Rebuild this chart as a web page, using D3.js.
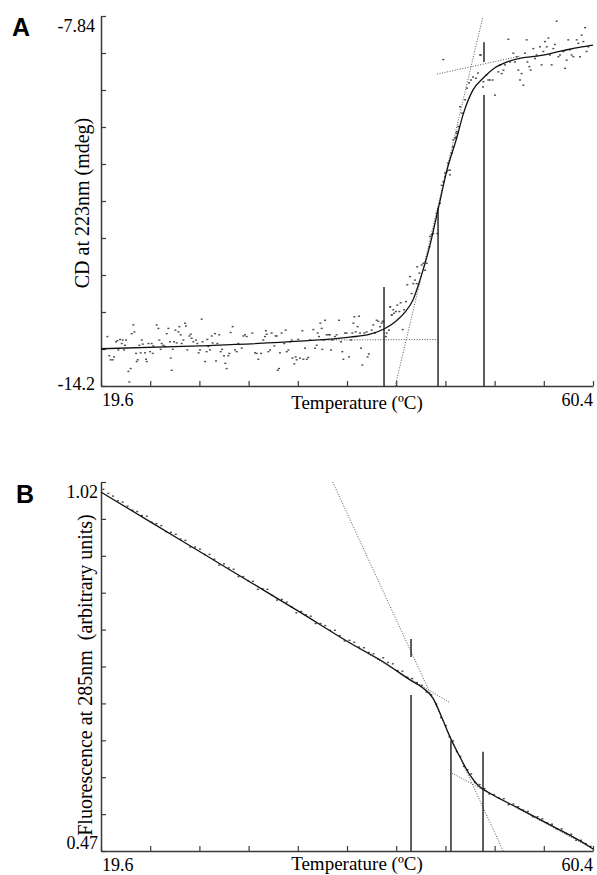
<!DOCTYPE html>
<html>
<head>
<meta charset="utf-8">
<script src="https://cdn.jsdelivr.net/npm/d3@7"></script>
<style>
  body { margin: 0; background: #fff; }
  svg { display: block; }
</style>
</head>
<body>
<script>
// shared axis ranges and labels
const tempRange = [19.6, 60.4];
const tempLabels = ['19.6', '60.4'];
const cdRange = [-14.2, -7.84];
const cdLabels = ['-7.84', '-14.2'];
const fluoRange = [0.47, 1.02];
const fluoLabels = ['1.02', '0.47'];

// ---- panel A : CD at 223nm ----
const cdFit = [
    [19.6, -13.56], [27.81, -13.51], [36.10, -13.43], [40.25, -13.36], [41.91, -13.31],
    [43.07, -13.22], [43.98, -13.10], [44.81, -12.93], [45.47, -12.72], [46.05, -12.38],
    [46.88, -11.78], [47.55, -11.17], [48.29, -10.49], [49.12, -9.92], [49.62, -9.54],
    [50.45, -9.11], [51.28, -8.91], [52.27, -8.73], [53.27, -8.63], [54.51, -8.56],
    [55.76, -8.53], [57.00, -8.48], [58.25, -8.42], [59.49, -8.37], [60.4, -8.34]
];
const cdDots = [
    [20.13, -13.35], [20.29, -13.68], [20.40, -13.75], [20.57, -13.75], [20.68, -13.70],
    [20.85, -13.44], [20.96, -13.42], [21.04, -13.58], [21.18, -13.40], [21.32, -13.47],
    [21.40, -13.41], [21.51, -13.58], [21.59, -13.50], [21.68, -13.41], [21.87, -13.95],
    [21.95, -14.13], [22.06, -13.90], [22.15, -13.30], [22.28, -13.15], [22.37, -13.27],
    [22.51, -13.64], [22.56, -13.78], [22.64, -13.75], [22.78, -13.50], [22.89, -13.63],
    [22.98, -13.41], [23.06, -13.48], [23.25, -13.63], [23.33, -13.74], [23.39, -13.78],
    [23.53, -13.47], [23.67, -13.61], [23.80, -13.47], [23.89, -13.64], [23.94, -13.51],
    [24.22, -13.15], [24.36, -13.21], [24.44, -13.41], [24.55, -13.57], [24.63, -13.47],
    [24.77, -13.50], [24.91, -13.52], [25.05, -13.30], [25.19, -13.21], [25.32, -13.44],
    [25.38, -13.72], [25.46, -13.93], [25.55, -13.57], [25.66, -13.44], [25.77, -13.24],
    [25.88, -13.46], [26.02, -13.27], [26.10, -13.18], [26.21, -13.32], [26.29, -13.47],
    [26.43, -13.41], [26.57, -13.12], [26.65, -13.17], [26.76, -13.58], [26.93, -13.34],
    [27.04, -13.31], [27.12, -13.38], [27.26, -13.44], [27.48, -13.41], [27.59, -13.47],
    [27.70, -13.63], [27.81, -13.58], [27.95, -13.05], [28.03, -13.44], [28.23, -13.78],
    [28.36, -13.61], [28.42, -13.40], [28.50, -13.52], [28.64, -13.58], [28.78, -13.34],
    [28.86, -13.46], [29.06, -13.30], [29.14, -13.77], [29.25, -13.47], [29.41, -13.32],
    [29.53, -13.61], [29.64, -13.57], [29.80, -13.68], [29.91, -13.81], [30.02, -13.90],
    [30.16, -13.68], [30.24, -13.64], [30.35, -13.28], [30.52, -13.18], [30.71, -13.58],
    [30.85, -13.61], [30.99, -13.47], [31.27, -13.55], [31.41, -13.34], [31.54, -13.32],
    [31.68, -13.35], [32.15, -13.29], [32.37, -13.63], [32.51, -13.64], [32.65, -13.74],
    [32.87, -13.64], [33.06, -13.41], [33.20, -13.35], [33.28, -13.25], [33.34, -13.31],
    [33.48, -13.61], [33.62, -13.58], [33.75, -13.29], [33.97, -13.51], [34.08, -13.34],
    [34.17, -13.34], [34.25, -13.93], [34.36, -13.90], [34.44, -13.63], [34.58, -13.29],
    [34.80, -13.47], [34.91, -13.24], [35.00, -13.61], [35.14, -13.58], [35.27, -13.44],
    [35.41, -13.41], [35.47, -13.72], [35.63, -13.82], [35.74, -13.70], [35.83, -13.75],
    [35.96, -13.40], [36.10, -13.72], [36.30, -13.25], [36.38, -13.74], [36.52, -13.55],
    [36.66, -13.74], [36.79, -13.71], [36.93, -13.41], [37.21, -13.23], [37.35, -13.55],
    [37.48, -13.50], [37.57, -13.29], [37.68, -13.35], [37.79, -13.12], [37.90, -13.21],
    [37.95, -13.57], [38.07, -13.41], [38.18, -13.07], [38.31, -13.32], [38.45, -13.32],
    [38.59, -13.32], [38.67, -13.58], [38.78, -13.41], [39.00, -13.35], [39.14, -13.32],
    [39.34, -13.07], [39.50, -13.44], [39.61, -13.61], [39.70, -13.74], [39.83, -13.29],
    [39.97, -13.29], [40.17, -13.70], [40.33, -13.41], [40.44, -13.29], [40.53, -13.12],
    [40.61, -13.01], [40.72, -13.27], [40.88, -13.18], [40.99, -13.00], [41.08, -13.29],
    [41.16, -13.55], [41.27, -13.84], [41.44, -13.29], [41.63, -13.27], [41.71, -13.70],
    [41.82, -13.65], [42.05, -13.24], [42.18, -13.15], [42.32, -13.29], [42.46, -13.07],
    [42.60, -13.09], [42.74, -13.18], [42.87, -13.12], [43.01, -13.09], [43.29, -13.29],
    [43.48, -13.24], [43.59, -12.84], [43.70, -12.98], [43.84, -12.89],
    [42.96, -13.09], [43.23, -13.35], [43.57, -12.84], [43.73, -12.98], [43.90, -12.95],
    [44.06, -12.92], [44.17, -12.81], [44.34, -12.92], [44.45, -12.77], [44.62, -13.23],
    [44.73, -12.89], [44.89, -12.75], [45.00, -12.46], [45.23, -12.32], [45.36, -12.61],
    [45.50, -12.44], [45.64, -12.38], [45.78, -12.44], [45.83, -12.15], [46.00, -12.26],
    [46.19, -12.12], [46.33, -12.09], [46.47, -12.21], [46.61, -12.09], [46.83, -11.81],
    [46.88, -11.63], [47.02, -11.60], [47.16, -11.58], [47.44, -11.23], [47.49, -11.58],
    [47.71, -11.06], [47.85, -10.75], [47.99, -10.69], [48.13, -10.60], [48.27, -10.52],
    [48.40, -10.49], [48.54, -10.57], [48.68, -10.20], [48.82, -9.97], [48.96, -9.94],
    [49.09, -9.86], [49.23, -9.74],
    [48.13, -10.54], [48.38, -10.37], [48.54, -10.49], [48.79, -10.09], [49.04, -9.92],
    [49.12, -9.83], [49.37, -9.40], [49.54, -9.51], [49.79, -9.28], [49.95, -9.08],
    [50.12, -8.99], [50.28, -8.94], [50.45, -8.89], [50.70, -8.91], [50.86, -8.82],
    [51.11, -8.51], [51.28, -9.06], [47.98, -8.59],
    [51.03, -8.51], [51.31, -8.97], [51.58, -8.85], [51.72, -8.94], [51.86, -8.94],
    [52.08, -8.94], [52.27, -9.20], [52.55, -8.80], [52.69, -8.68], [52.83, -8.83],
    [52.97, -8.77], [53.10, -8.68], [53.38, -8.24], [53.52, -8.63], [53.79, -8.48],
    [53.93, -8.63], [54.07, -8.54], [54.21, -8.77], [54.35, -8.94], [54.48, -8.83],
    [54.62, -9.03], [54.76, -8.48], [54.90, -8.25], [54.96, -8.63], [55.12, -8.71],
    [55.23, -8.77], [55.45, -8.40], [55.59, -8.57], [55.73, -8.51], [56.00, -8.37],
    [56.14, -8.68], [56.28, -8.45], [56.42, -8.28], [56.56, -8.37], [56.70, -8.22],
    [56.83, -8.51], [56.97, -8.68], [57.11, -8.40], [57.25, -8.33], [57.39, -7.93],
    [57.53, -8.54], [57.66, -8.51], [57.94, -8.45], [58.08, -8.74], [58.22, -8.60],
    [58.35, -8.25], [58.49, -8.42], [58.63, -8.51], [58.77, -8.54], [59.05, -8.25],
    [59.18, -8.31], [59.32, -8.54], [59.46, -8.17], [59.60, -8.28], [59.74, -8.04],
    [59.87, -8.45], [60.01, -8.37]
];
const cdGuides = [
    [[37.8, -13.41], [47.55, -13.40]],
    [[44.0, -14.2], [51.25, -7.87]],
    [[47.46, -8.84], [54.35, -8.53]]
];
const cdMarks = [
    [43.07, -14.2, -12.50],
    [47.55, -14.2, -11.13],
    [51.36, -14.2, -9.20],
    [51.36, -8.63, -8.29]
];

// ---- panel B : fluorescence at 285nm ----
const fluoFit = [
    [19.6, 1.005], [23.66, 0.961], [27.81, 0.916], [31.96, 0.871], [36.10, 0.826],
    [40.25, 0.780], [42.99, 0.752], [45.23, 0.725], [46.30, 0.713], [47.13, 0.698],
    [47.96, 0.665], [48.54, 0.640], [49.37, 0.610], [50.20, 0.583], [50.86, 0.568],
    [51.86, 0.556], [54.10, 0.535], [56.84, 0.509], [60.15, 0.476], [60.4, 0.473]
];
const fluoDots = [
    [19.8, 1.009], [20.2, 1.003], [20.6, 0.999], [21.0, 0.992], [21.4, 0.990],
    [21.8, 0.984], [22.2, 0.978], [22.6, 0.976], [23.0, 0.970], [23.4, 0.969],
    [23.8, 0.960], [24.2, 0.958], [24.6, 0.955], [25.0, 0.946], [25.4, 0.945],
    [25.8, 0.942], [26.2, 0.935], [26.6, 0.933], [27.0, 0.923], [27.4, 0.923],
    [27.8, 0.920], [28.2, 0.912], [28.6, 0.912], [29.0, 0.905], [29.4, 0.896],
    [29.8, 0.898], [30.2, 0.892], [30.6, 0.890], [31.0, 0.879], [31.4, 0.879],
    [31.8, 0.873], [32.2, 0.872], [32.6, 0.860], [33.0, 0.861], [33.4, 0.860],
    [33.8, 0.851], [34.2, 0.844], [34.6, 0.845], [35.0, 0.841], [35.4, 0.834],
    [35.8, 0.825], [36.2, 0.827], [36.6, 0.822], [37.0, 0.820], [37.4, 0.809],
    [37.8, 0.809], [38.2, 0.806], [38.6, 0.799], [39.0, 0.799], [39.4, 0.791],
    [39.8, 0.783], [40.2, 0.784], [40.6, 0.781], [41.0, 0.774], [41.4, 0.773],
    [41.8, 0.766], [42.2, 0.764], [42.6, 0.756], [43.0, 0.758], [43.4, 0.751],
    [43.8, 0.749], [44.2, 0.739], [44.6, 0.738], [45.0, 0.729], [45.4, 0.727],
    [45.8, 0.721], [46.2, 0.717], [46.6, 0.707], [47.0, 0.703], [47.4, 0.689],
    [47.8, 0.669], [48.2, 0.657], [48.5, 0.640], [48.8, 0.634], [49.1, 0.618],
    [49.4, 0.611], [49.7, 0.596], [50.0, 0.591], [50.3, 0.585], [50.6, 0.572],
    [51.0, 0.569], [51.4, 0.563], [51.8, 0.555], [52.2, 0.554], [52.6, 0.549],
    [53.0, 0.548], [53.4, 0.539], [53.8, 0.540], [54.2, 0.536], [54.6, 0.531],
    [55.0, 0.529], [55.4, 0.521], [55.8, 0.521], [56.2, 0.518], [56.6, 0.512],
    [57.0, 0.510], [57.4, 0.503], [57.8, 0.503], [58.2, 0.496], [58.6, 0.495],
    [59.0, 0.486], [59.4, 0.486], [59.8, 0.481], [60.2, 0.477]
];
const fluoGuides = [
    [[38.81, 1.02], [52.95, 0.47]],
    [[40.25, 0.780], [48.54, 0.691]],
    [[48.71, 0.586], [60.4, 0.473]]
];
const fluoMarks = [
    [45.31, 0.47, 0.7025],
    [45.31, 0.759, 0.786],
    [48.62, 0.47, 0.635],
    [51.28, 0.47, 0.618]
];

const width = 597,
    height = 875,
    serif = "'Liberation Serif', 'Times New Roman', serif";

const svg = d3.select('body').append('svg')
    .attr('width', width)
    .attr('height', height);

function drawPanel(p) {
    const g = svg.append('g');
    const x = d3.scaleLinear().domain(tempRange).range([p.left, p.right]);
    const y = d3.scaleLinear().domain(p.yRange).range([p.bottom, p.top]);
    // ten equal divisions on both axes
    const xTicks = d3.range(11).map(i => tempRange[0] + i * (tempRange[1] - tempRange[0]) / 10);
    const yTicks = d3.range(11).map(i => p.yRange[0] + i * (p.yRange[1] - p.yRange[0]) / 10);

    const xAxis = g.append('g')
        .attr('transform', `translate(0,${p.bottom})`)
        .call(d3.axisBottom(x).tickValues(xTicks).tickSize(-5).tickSizeOuter(0).tickFormat(''));
    const yAxis = g.append('g')
        .attr('transform', `translate(${p.left},0)`)
        .call(d3.axisLeft(y).tickValues(yTicks).tickSize(-5).tickSizeOuter(0).tickFormat(''));
    [xAxis, yAxis].forEach(a => {
        a.select('.domain').attr('stroke', '#3a3a3a').attr('stroke-width', 1.5);
        a.selectAll('.tick line').attr('stroke', '#3a3a3a').attr('stroke-width', 1.2);
    });

    // dotted guide lines
    g.selectAll('line.guide')
        .data(p.guides)
        .join('line')
        .attr('x1', d => x(d[0][0]))
        .attr('y1', d => y(d[0][1]))
        .attr('x2', d => x(d[1][0]))
        .attr('y2', d => y(d[1][1]))
        .attr('stroke', '#555')
        .attr('stroke-width', 1)
        .attr('stroke-dasharray', '1,1.6');

    // raw measurement points
    g.selectAll('rect.dot')
        .data(p.dots)
        .join('rect')
        .attr('x', d => x(d[0]) - 1)
        .attr('y', d => y(d[1]) - 0.7)
        .attr('width', 2)
        .attr('height', 1.4)
        .attr('fill', '#4a4a4a');

    // fitted curve
    g.append('path')
        .datum(p.fit)
        .attr('fill', 'none')
        .attr('stroke', '#111')
        .attr('stroke-width', 1.3)
        .attr('d', d3.line().x(d => x(d[0])).y(d => y(d[1])).curve(d3.curveMonotoneX));

    // vertical transition markers
    g.selectAll('line.mark')
        .data(p.marks)
        .join('line')
        .attr('x1', d => x(d[0]))
        .attr('x2', d => x(d[0]))
        .attr('y1', d => y(d[1]))
        .attr('y2', d => y(d[2]))
        .attr('stroke', '#1a1a1a')
        .attr('stroke-width', 1.4);

    const txt = sel => sel.style('font-family', serif);

    // end labels
    g.append('text').call(txt)
        .attr('x', p.left + 1).attr('y', p.bottom + 20)
        .attr('font-size', 18)
        .text(tempLabels[0]);
    g.append('text').call(txt)
        .attr('x', p.right).attr('y', p.bottom + 20)
        .attr('text-anchor', 'end')
        .attr('font-size', 18)
        .text(tempLabels[1]);
    g.append('text').call(txt)
        .attr('x', 357).attr('y', p.bottom + p.xTitleOffset)
        .attr('text-anchor', 'middle')
        .attr('font-size', 19)
        .text('Temperature (ºC)');

    g.append('text').call(txt)
        .attr('x', p.labelRight).attr('y', p.top + 16)
        .attr('text-anchor', 'end')
        .attr('font-size', 18)
        .text(p.yLabels[0]);
    g.append('text').call(txt)
        .attr('x', p.labelRight).attr('y', p.bottom + p.lowOffset)
        .attr('text-anchor', 'end')
        .attr('font-size', 18)
        .text(p.yLabels[1]);

    g.append('text').call(txt)
        .attr('transform', `translate(${p.titleX},${p.titleY}) rotate(-90)`)
        .attr('text-anchor', 'middle')
        .attr('font-size', 20)
        .style('white-space', 'pre')
        .text(p.title);

    g.append('text')
        .attr('x', p.letterX).attr('y', p.letterY)
        .style('font-family', "'Liberation Sans', Arial, sans-serif")
        .attr('font-weight', 'bold')
        .attr('font-size', 25)
        .text(p.letter);
}

drawPanel({
    left: 101, right: 593, top: 16, bottom: 386,
    yRange: cdRange, yLabels: cdLabels,
    fit: cdFit, dots: cdDots, guides: cdGuides, marks: cdMarks,
    labelRight: 95, lowOffset: 4, xTitleOffset: 23,
    title: 'CD at 223nm (mdeg)', titleX: 89, titleY: 203,
    letter: 'A', letterX: 12, letterY: 36
});

drawPanel({
    left: 101, right: 593, top: 482, bottom: 851,
    yRange: fluoRange, yLabels: fluoLabels,
    fit: fluoFit, dots: fluoDots, guides: fluoGuides, marks: fluoMarks,
    labelRight: 98, lowOffset: -2, xTitleOffset: 19,
    title: 'Fluorescence at 285nm  (arbitrary units)', titleX: 92, titleY: 675,
    letter: 'B', letterX: 16, letterY: 503
});
</script>
</body>
</html>
